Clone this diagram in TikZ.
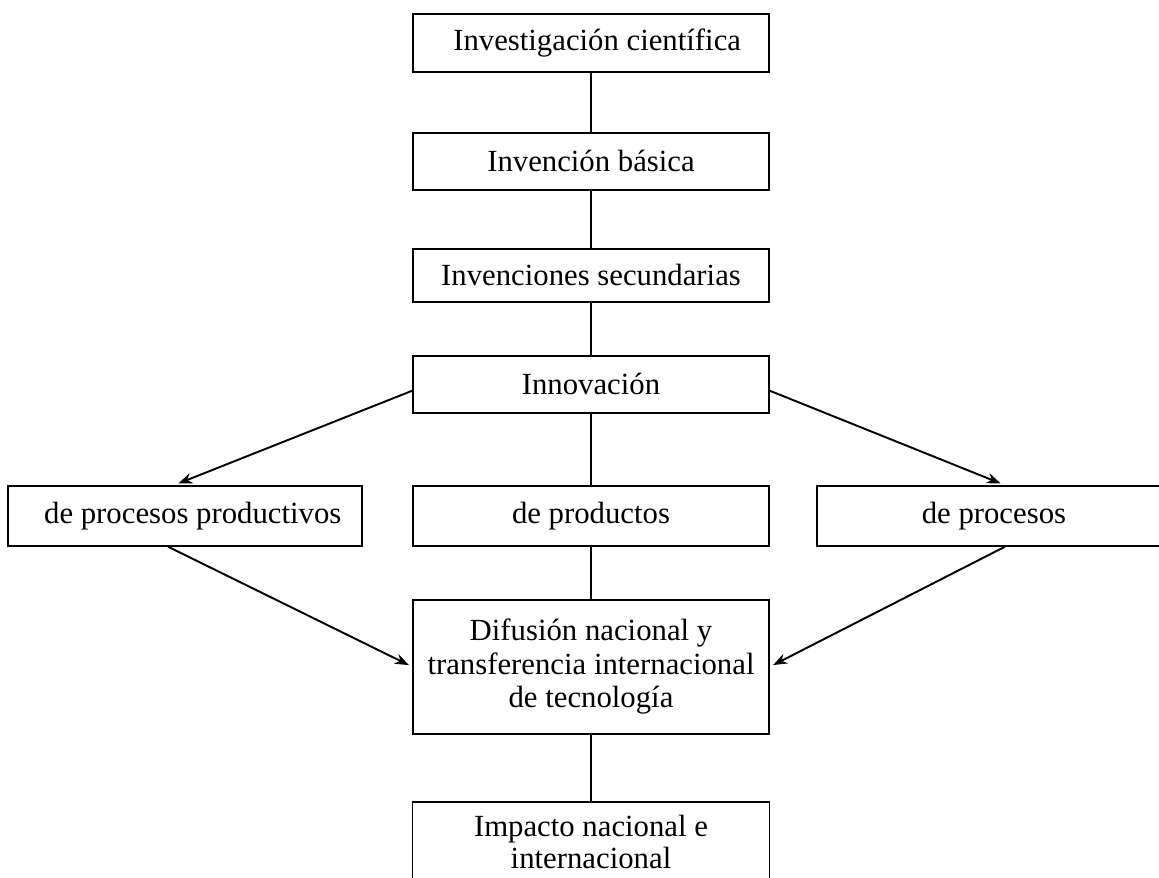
\documentclass[tikz,border=0pt]{standalone}
\usepackage{fontspec}
\setmainfont{Liberation Serif}
\usetikzlibrary{arrows.meta,positioning}
\tikzset{
    %Define standard arrow tip
    >={Stealth[length=8pt,width=6pt]},
    %Define style for boxes
    etapa/.style={
           rectangle,
           draw=black, line width=1.1pt,
           minimum width=7.12cm,
           inner sep=2pt,
           font=\fontsize{17.5}{19}\selectfont,
           text centered,
           align=center},
    rama/.style={
           etapa,
           minimum width=7.08cm,
           minimum height=1.2cm},
    % Define line styles
    linea/.style={
           -,
           line width=1.6pt},
    flecha/.style={
           ->,
           line width=1.1pt,
           shorten >=2pt}
}

\begin{document}
\begin{tikzpicture}[node distance=1.2cm]
\useasboundingbox (0,0) rectangle (23.18,-17.56);
 %nodes
\node[etapa, minimum height=1.16cm] (inv) at (11.82,-0.86) {\hspace{0.4em}Investigación científica};
\node[etapa, minimum height=1.14cm, below=1.18cm of inv] (bas) {Invención básica};
\node[etapa, minimum height=1.06cm, below=1.14cm of bas] (sec) {Invenciones secundarias};
\node[etapa, minimum height=1.14cm, below=1.04cm of sec] (inn) {Innovación};
\node[rama, minimum width=7.12cm, below=1.42cm of inn] (prod) {de productos};
\node[rama, left=0.98cm of prod] (pp) {\hspace{0.5em}de procesos productivos};
\node[rama, right=0.92cm of prod] (proc) {de procesos};
\node[etapa, minimum height=2.68cm, below=1.04cm of prod] (dif) {Difusión nacional y\\transferencia internacional\\de tecnología};
\node[etapa, below=1.32cm of dif] (imp) {\parbox[c][1.5cm][t]{7cm}{\centering\vspace{6pt}Impacto nacional e\\[-1pt]internacional}};

 %connectors
\path[linea]
    (inv) edge (bas)
    (bas) edge (sec)
    (sec) edge (inn)
    (inn) edge (prod)
    (prod) edge (dif)
    (dif) edge (imp);
\path[flecha]
    ([yshift=-0.13cm]inn.west) edge ([xshift=-0.2cm]pp.north)
    ([yshift=-0.13cm]inn.east) edge ([xshift=0.2cm]proc.north)
    ([xshift=-0.34cm]pp.south) edge (dif.west)
    ([xshift=0.22cm]proc.south) edge (dif.east);
\end{tikzpicture}
\end{document}
